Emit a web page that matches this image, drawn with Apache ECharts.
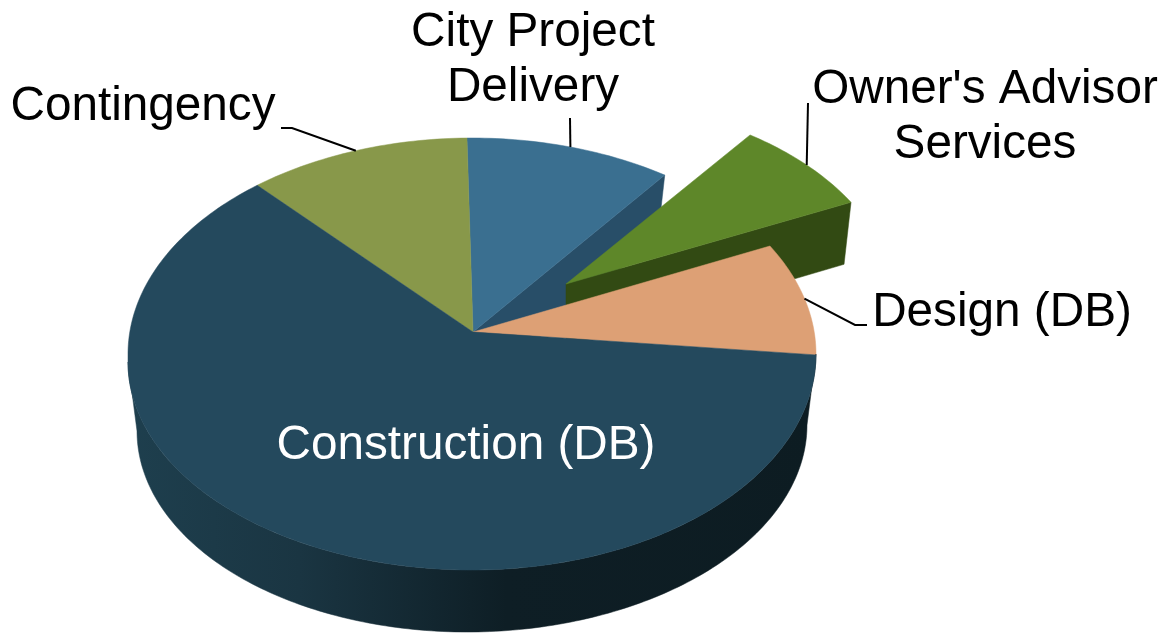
<!DOCTYPE html>
<html>
<head>
<meta charset="utf-8">
<title>Project budget</title>
<script src="https://cdn.jsdelivr.net/npm/echarts@6/dist/echarts.min.js"></script>
<style>
  html, body { margin: 0; padding: 0; background: #fff; }
  #chart { width: 1161px; height: 634px; }
</style>
</head>
<body>
<div id="chart"></div>
<script>
// values are estimated from the slice angles, in clockwise order
const categories = ["Design (DB)", "Construction (DB)", "Contingency", "City Project\nDelivery", "Owner's Advisor\nServices"];
const shares = [8.4, 64.2, 10.5, 9.7, 7.2];
const topColors = ["#dda075", "#24495d", "#88984a", "#3a6f90", "#5e8729"];
const wallColors = ["#8a5f40", "#12262f", "#4d5729", "#284e68", "#324a13"];
const exploded = [0, 0, 0, 0, 1];

// drawing setup of the tilted pie
const startAngle = 60;
const pie = { cx: 472, cy: 354, rx: 344, ry: 216, apexX: 473, apexY: 332, lowerLeftCy: 362, lowerLeftRy: 208 };
const base = { cx: 472, cy: 428, rx: 335, ry: 204, tilt: 3 };
const explode = { apexX: 566, apexY: 284, scaleX: 0.96, scaleY: 0.95 };
const wallDrop = { dx: -7, dy: 62 };
const zOrder = [5, 8, 6, 2, 4];
const fontFamily = '"Liberation Sans", Arial, sans-serif';
const fontSize = 47.7;

// label centre and leader bend points, null for no leader
const labelLayout = [
  { x: 1002, y: 313, color: "#000", leader: [[867, 325], [855, 325]] },
  { x: 466, y: 446, color: "#fff", leader: null },
  { x: 143, y: 107, color: "#000", leader: [[281, 128], [292, 128]] },
  { x: 533, y: 60, color: "#000", leader: [[570, 118]] },
  { x: 985, y: 117, color: "#000", leader: [[808, 103]] },
];

const total = shares.reduce((a, b) => a + b, 0);
let running = startAngle;
const sliceAngles = shares.map((v) => {
  const from = running;
  running += (v / total) * 360;
  return [from, running];
});

function rimPoint(e, deg) {
  const r = (deg * Math.PI) / 180;
  const d = ((deg % 360) + 360) % 360;
  // the front left of the top face sits a bit lower in the picture
  const lowerLeft = e.lowerLeftCy && d >= 180 && d <= 270;
  const cy = lowerLeft ? e.lowerLeftCy : e.cy;
  const ry = lowerLeft ? e.lowerLeftRy : e.ry;
  return [e.cx + e.rx * Math.sin(r), cy - ry * Math.cos(r) - (e.tilt || 0) * Math.sin(r)];
}

// a point of the top face, moved out when the slice is pulled from the pie
function slicePoint(i, deg) {
  const p = rimPoint(pie, deg);
  if (!exploded[i]) return p;
  return [
    explode.apexX + explode.scaleX * (p[0] - pie.apexX),
    explode.apexY + explode.scaleY * (p[1] - pie.apexY),
  ];
}

function sliceApex(i) {
  return exploded[i] ? [explode.apexX, explode.apexY] : [pie.apexX, pie.apexY];
}

function arcPoints(i, from, to) {
  const pts = [];
  const steps = Math.ceil(Math.abs(to - from));
  for (let s = 0; s <= steps; s++) {
    pts.push(slicePoint(i, from + ((to - from) * s) / steps));
  }
  return pts;
}

function polygon(points, fill, z2) {
  return {
    type: "polygon",
    z2: z2,
    shape: { points: points },
    style: { fill: fill, stroke: fill, lineWidth: 0.5 },
  };
}

function renderSlice(params, api) {
  const i = params.dataIndex;
  const [from, to] = sliceAngles[i];
  const apex = sliceApex(i);
  const z = zOrder[i] * 10;
  const children = [];

  // the cut face on the clockwise end of the back slices
  if (i === 3 || i === 4) {
    const r = slicePoint(i, to);
    children.push(polygon([
      apex, r,
      [r[0] + wallDrop.dx, r[1] + wallDrop.dy],
      [apex[0], apex[1] + wallDrop.dy],
    ], wallColors[i], z - 1));
  }

  // the outer wall that faces the viewer
  if (i === 1) {
    const wall = [];
    for (let d = 90; d <= 270; d++) wall.push(rimPoint(pie, d));
    for (let d = 270; d >= 90; d--) wall.push(rimPoint(base, d));
    children.push(polygon(wall, new echarts.graphic.LinearGradient(0, 0, 1, 0, [
      { offset: 0, color: "#1e3f4e" },
      { offset: 0.25, color: "#1a3542" },
      { offset: 0.55, color: "#0e1e25" },
      { offset: 1, color: "#0d1c22" },
    ]), z - 1));
  }

  children.push(polygon([apex].concat(arcPoints(i, from, to)), topColors[i], z));

  const lay = labelLayout[i];
  if (lay.leader) {
    children.push({
      type: "polyline",
      z2: 900,
      shape: { points: lay.leader.concat([slicePoint(i, (from + to) / 2)]) },
      style: { fill: null, stroke: "#000", lineWidth: 2 },
    });
  }
  children.push({
    type: "text",
    z2: 1000,
    style: {
      x: lay.x,
      y: lay.y,
      text: categories[i],
      fill: lay.color,
      font: fontSize + "px " + fontFamily,
      lineHeight: 55,
      align: "center",
      verticalAlign: "middle",
    },
  });

  return { type: "group", children: children };
}

const chart = echarts.init(document.getElementById("chart"), null, { renderer: "canvas" });
chart.setOption({
  backgroundColor: "#fff",
  animation: false,
  tooltip: { show: false },
  series: [
    {
      type: "custom",
      coordinateSystem: "none",
      renderItem: renderSlice,
      data: shares.map((v, i) => ({ name: categories[i], value: v })),
    },
  ],
});
</script>
</body>
</html>
